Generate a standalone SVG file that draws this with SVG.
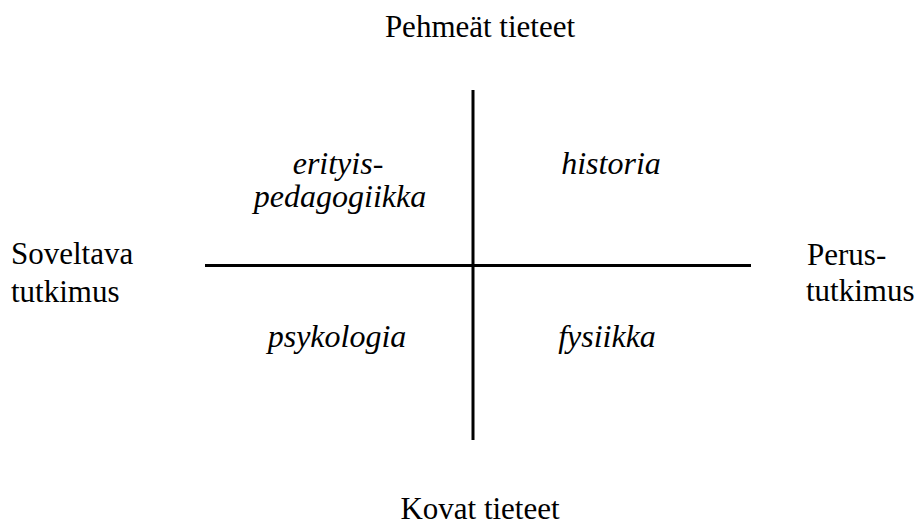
<svg xmlns="http://www.w3.org/2000/svg" width="920" height="527" viewBox="0 0 920 527">
<style>
text{font-family:'Liberation Serif','Times New Roman',Times,serif;font-size:31px;fill:#000}
.i{font-style:italic;text-anchor:middle;font-size:32px}
.c{text-anchor:middle}
.ax{stroke:#000;stroke-width:3;fill:none}
</style>
<rect width="920" height="527" fill="#fff"/>
<g id="connectors">
<line class="ax" x1="473" y1="90" x2="473" y2="440"/>
<line class="ax" x1="205" y1="265.5" x2="751" y2="265.5"/>
</g>
<g id="top"><text class="c" x="480" y="37">Pehmeät tieteet</text></g>
<g id="bottom"><text class="c" x="480" y="519">Kovat tieteet</text></g>
<g id="left"><text x="11" y="264">Soveltava</text><text x="11" y="302">tutkimus</text></g>
<g id="right"><text x="807" y="265">Perus-</text><text x="806" y="301">tutkimus</text></g>
<g id="erityispedagogiikka"><text class="i" x="338" y="174">erityis-</text><text class="i" x="340" y="207">pedagogiikka</text></g>
<g id="historia"><text class="i" x="611" y="174">historia</text></g>
<g id="psykologia"><text class="i" x="337" y="347">psykologia</text></g>
<g id="fysiikka"><text class="i" x="607" y="347">fysiikka</text></g>
</svg>
